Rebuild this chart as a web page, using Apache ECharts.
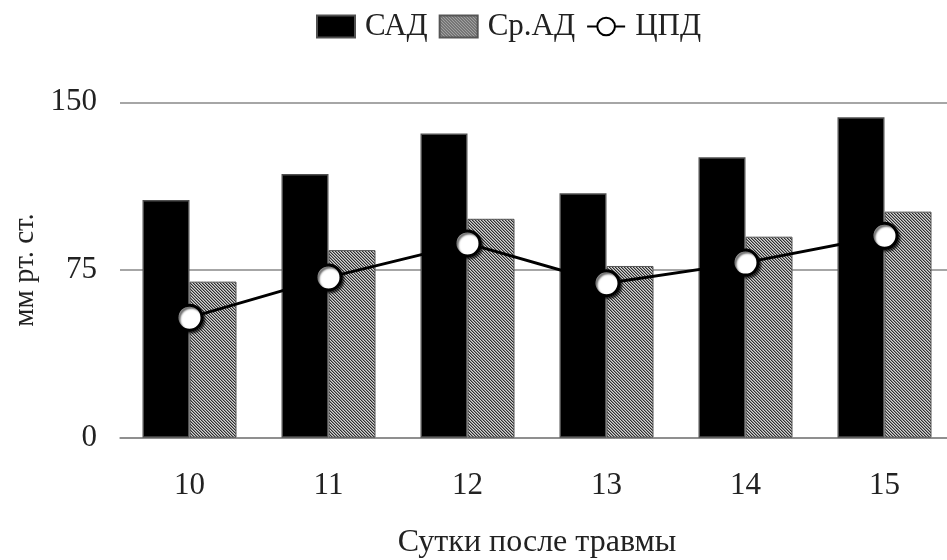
<!DOCTYPE html>
<html>
<head>
<meta charset="utf-8">
<script src="https://cdn.jsdelivr.net/npm/echarts@6/dist/echarts.min.js"></script>
<style>html,body{margin:0;padding:0;background:#fff;}#c{width:947px;height:560px;}</style>
</head>
<body>
<div id="c"></div>
<script>
var categories = ['10', '11', '12', '13', '14', '15'];
var sadValues = [106.3, 117.9, 136.1, 109.3, 125.4, 143.3];
var sradValues = [69.8, 83.9, 97.9, 76.8, 89.9, 101.1];
var cpdValues = [53.7, 71.7, 86.9, 69.1, 78.3, 90.3];
var yTicks = [0, 75, 150];

function hatch() {
  var cv = document.createElement('canvas');
  cv.width = 3; cv.height = 3;
  var ctx = cv.getContext('2d');
  var cols = ['#2e2e2e', '#8c8c8c', '#d4d4d4'];
  for (var y = 0; y < 3; y++) {
    for (var x = 0; x < 3; x++) {
      var d = ((x - y) % 3 + 3) % 3;
      ctx.fillStyle = cols[d];
      ctx.fillRect(x, y, 1, 1);
    }
  }
  return cv;
}

var FONT = '"Liberation Serif", "Times New Roman", serif';
var chart = echarts.init(document.getElementById('c'), null, {renderer: 'canvas'});
chart.setOption({
  animation: false,
  backgroundColor: '#fff',
  textStyle: {fontFamily: FONT, color: '#222'},
  legend: {
    top: 6,
    left: 311,
    itemWidth: 38,
    itemHeight: 22,
    itemGap: 11,
    textStyle: {fontFamily: FONT, fontSize: 31, color: '#222', padding: [0, 0, 0, 5]},
    data: [
      {name: 'САД', icon: 'rect'},
      {name: 'Ср.АД', icon: 'rect'},
      {name: 'ЦПД'}
    ]
  },
  grid: {left: 120, top: 102.3, width: 834, height: 335.4, containLabel: false, outerBoundsMode: 'none'},
  xAxis: {
    type: 'category',
    data: categories,
    name: 'Сутки после травмы',
    nameLocation: 'middle',
    nameGap: 89,
    nameTextStyle: {fontFamily: FONT, fontSize: 32, color: '#222'},
    axisLine: {show: true, lineStyle: {color: '#888', width: 1.5}},
    axisTick: {show: false},
    axisLabel: {fontFamily: FONT, fontSize: 31, color: '#222', margin: 33}
  },
  yAxis: {
    type: 'value',
    min: yTicks[0],
    max: yTicks[2],
    interval: yTicks[1] - yTicks[0],
    name: 'мм рт. ст.',
    nameLocation: 'middle',
    nameGap: 80,
    nameTextStyle: {fontFamily: FONT, fontSize: 29, color: '#222'},
    axisLine: {show: false},
    axisTick: {show: false},
    axisLabel: {fontFamily: FONT, fontSize: 31, color: '#222', margin: 23},
    splitLine: {show: true, lineStyle: {color: '#888', width: 1.5}}
  },
  series: [
    {
      name: 'САД', type: 'bar', data: sadValues,
      barWidth: 47, barGap: '0%',
      itemStyle: {color: '#000', borderColor: '#505050', borderWidth: 1.5}
    },
    {
      name: 'Ср.АД', type: 'bar', data: sradValues,
      barWidth: 47, barGap: '0%',
      itemStyle: {color: {image: hatch(), repeat: 'repeat'}, borderColor: '#555', borderWidth: 1}
    },
    {
      name: 'ЦПД', type: 'line', data: cpdValues,
      symbol: 'circle', symbolSize: 25,
      lineStyle: {color: '#000', width: 3},
      itemStyle: {color: '#fff', borderColor: '#000', borderWidth: 3,
        shadowColor: 'rgba(0,0,0,0.6)', shadowBlur: 2, shadowOffsetX: 2, shadowOffsetY: 2},
      z: 5
    }
  ]
});
</script>
</body>
</html>
